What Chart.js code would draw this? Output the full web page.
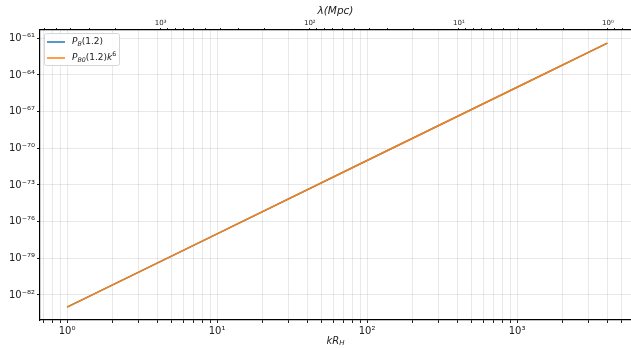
<!DOCTYPE html>
<html>
<head>
<meta charset="utf-8">
<script src="https://cdn.jsdelivr.net/npm/chart.js@4/dist/chart.umd.min.js"></script>
<style>
  html, body { margin: 0; padding: 0; background: #fff; }
  #wrap { width: 631px; height: 348px; }
</style>
</head>
<body>
<div id="wrap"><canvas id="chart"></canvas></div>
<script>
// --- data ---
const kValues = [1, 10, 100, 1000, 4000];
const pB = [1e-83, 1e-77, 1e-71, 1e-65, 4.1e-62];
const pB0k6 = [1e-83, 1e-77, 1e-71, 1e-65, 4.1e-62];

// axis ranges and ticks
const kRange = [0.66, 5750];
const pRange = [8.9e-85, 4.8e-61];
const yTickExps = [-82, -79, -76, -73, -70, -67, -64, -61];
const lambdaConst = 4260; // lambda = lambdaConst / k

const SUP = { '-': '\u207B', '0': '\u2070', '1': '\u00B9', '2': '\u00B2', '3': '\u00B3',
  '4': '\u2074', '5': '\u2075', '6': '\u2076', '7': '\u2077', '8': '\u2078', '9': '\u2079' };

function powLabel(v) {
    const e = Math.round(Math.log10(v));
    if (Math.abs(Math.log10(v) - e) > 1e-6) return '';
    return '10' + String(e).split('').map(c => SUP[c]).join('');
}

// major + minor log ticks inside [min, max]
function logTicks(min, max) {
    const out = [];
    for (let e = Math.floor(Math.log10(min)); e <= Math.ceil(Math.log10(max)); e++) {
        for (let m = 1; m < 10; m++) {
            const v = m * Math.pow(10, e);
            if (v >= min && v <= max) out.push(v);
        }
    }
    return out;
}

function toPoints(xs, ys) {
    return xs.map((x, i) => ({ x: x, y: ys[i] }));
}

// draw text with italic / sub / sup pieces
function drawRich(ctx, parts, x, y, size) {
    let cx = x;
    parts.forEach(p => {
        const s = p.sub || p.sup ? size * 0.7 : size;
        ctx.font = (p.it ? 'italic ' : '') + s + 'px "DejaVu Sans"';
        const dy = p.sub ? size * 0.25 : p.sup ? -size * 0.4 : 0;
        ctx.fillText(p.t, cx, y + dy);
        cx += ctx.measureText(p.t).width;
    });
    return cx - x;
}

function richWidth(ctx, parts, size) {
    let w = 0;
    parts.forEach(p => {
        const s = p.sub || p.sup ? size * 0.7 : size;
        ctx.font = (p.it ? 'italic ' : '') + s + 'px "DejaVu Sans"';
        w += ctx.measureText(p.t).width;
    });
    return w;
}

const legendItems = [
    { color: '#1f77b4', parts: [{ t: 'P', it: true }, { t: 'B', it: true, sub: true }, { t: '(1.2)' }] },
    { color: '#ff7f0e', parts: [{ t: 'P', it: true }, { t: 'B0', it: true, sub: true }, { t: '(1.2)' },
        { t: 'k', it: true }, { t: '6', sup: true }] }
];

const extras = {
    id: 'extras',
    afterDatasetsDraw(chart) {
        const ctx = chart.ctx;
        const a = chart.chartArea;
        ctx.save();
        // legend box
        const bx = a.left + 4, by = a.top + 3, bw = 75, bh = 32;
        ctx.fillStyle = 'rgba(255,255,255,0.85)';
        ctx.strokeStyle = '#d6d6d6';
        ctx.lineWidth = 1;
        ctx.beginPath();
        ctx.roundRect(bx + 0.5, by + 0.5, bw, bh, 2);
        ctx.fill();
        ctx.stroke();
        legendItems.forEach((it, i) => {
            const ly = by + 9 + i * 16;
            ctx.strokeStyle = it.color;
            ctx.lineWidth = 1.5;
            ctx.beginPath();
            ctx.moveTo(bx + 3, ly);
            ctx.lineTo(bx + 21, ly);
            ctx.stroke();
            ctx.fillStyle = '#222';
            ctx.textBaseline = 'middle';
            ctx.textAlign = 'left';
            drawRich(ctx, it.parts, bx + 28, ly, 9);
        });
        ctx.restore();
    },
    afterDraw(chart) {
        const ctx = chart.ctx;
        const a = chart.chartArea;
        const cx = (a.left + a.right) / 2;
        ctx.save();
        ctx.fillStyle = '#222';
        ctx.textBaseline = 'middle';
        ctx.textAlign = 'left';
        const kParts = [{ t: 'kR', it: true }, { t: 'H', it: true, sub: true }];
        drawRich(ctx, kParts, cx - richWidth(ctx, kParts, 10) / 2, 341, 10);
        const lParts = [{ t: '\u03BB(Mpc)', it: true }];
        drawRich(ctx, lParts, cx - richWidth(ctx, lParts, 10.5) / 2, 11, 10.5);
        ctx.restore();
    }
};

new Chart(document.getElementById('chart'), {
    type: 'line',
    data: {
        datasets: [
            {
                label: 'P_B(1.2)',
                data: toPoints(kValues, pB),
                borderColor: '#1f77b4',
                borderWidth: 1.5,
                pointRadius: 0,
                order: 2
            },
            {
                label: 'P_B0(1.2)k^6',
                data: toPoints(kValues, pB0k6),
                borderColor: '#ff7f0e',
                borderWidth: 1.5,
                pointRadius: 0,
                order: 1
            }
        ]
    },
    plugins: [extras],
    options: {
        responsive: true,
        maintainAspectRatio: false,
        animation: false,
        layout: { padding: 0 },
        plugins: { legend: { display: false }, tooltip: { enabled: false } },
        scales: {
            x: {
                type: 'logarithmic',
                position: 'bottom',
                min: kRange[0],
                max: kRange[1],
                afterBuildTicks: s => { s.ticks = logTicks(kRange[0], kRange[1]).map(v => ({ value: v })); },
                afterFit: s => { s.height = 28; },
                ticks: {
                    autoSkip: false,
                    maxRotation: 0,
                    padding: 2,
                    color: '#222',
                    font: { family: 'DejaVu Sans', size: 10 },
                    callback: v => powLabel(v)
                },
                grid: { color: 'rgba(0,0,0,0.085)', tickColor: '#222', tickLength: 3 },
                border: { color: '#000', width: 1.2 }
            },
            top: {
                type: 'logarithmic',
                position: 'top',
                reverse: true,
                min: lambdaConst / kRange[1],
                max: lambdaConst / kRange[0],
                afterBuildTicks: s => {
                    s.ticks = logTicks(lambdaConst / kRange[1], lambdaConst / kRange[0]).map(v => ({ value: v }));
                },
                afterFit: s => { s.height = 30; },
                ticks: {
                    autoSkip: false,
                    maxRotation: 0,
                    padding: 1,
                    color: '#222',
                    font: { family: 'DejaVu Sans', size: 7 },
                    callback: v => powLabel(v)
                },
                grid: { drawOnChartArea: false, tickColor: '#222', tickLength: 2 },
                border: { color: '#000', width: 1.2 }
            },
            y: {
                type: 'logarithmic',
                position: 'left',
                min: pRange[0],
                max: pRange[1],
                afterBuildTicks: s => { s.ticks = yTickExps.map(e => ({ value: Math.pow(10, e) })); },
                afterFit: s => { s.width = 40; },
                ticks: {
                    autoSkip: false,
                    padding: 2,
                    color: '#222',
                    font: { family: 'DejaVu Sans', size: 10 },
                    callback: v => powLabel(v)
                },
                grid: { color: 'rgba(0,0,0,0.085)', tickColor: '#222', tickLength: 3 },
                border: { color: '#000', width: 1.2 }
            }
        }
    }
});
</script>
</body>
</html>
